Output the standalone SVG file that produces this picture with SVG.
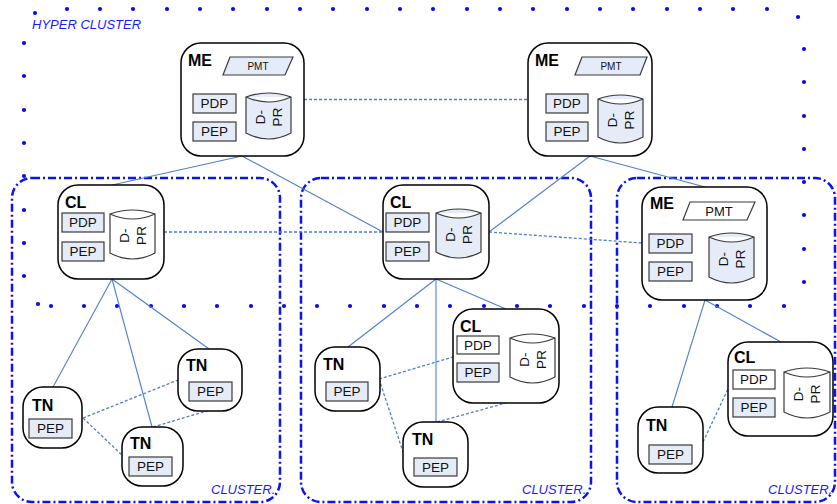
<svg xmlns="http://www.w3.org/2000/svg" width="837" height="504" viewBox="0 0 837 504">
<style>
.bg{fill:#fff}
.dot{fill:#0a0ae6}
.clu{fill:none;stroke:#0a14f0;stroke-width:2.5;stroke-dasharray:8 3 2 3}
.lbl{font-family:"Liberation Sans",Arial,sans-serif;font-style:italic;fill:#1a1aff;font-size:13px}
.node{fill:#fff;stroke:#000;stroke-width:1.5}
.box{fill:#e6ecf7;stroke:#3a3a3a;stroke-width:1.2}
.boxw{fill:#fff;stroke:#3a3a3a;stroke-width:1.2}
.cyl{fill:#e6ecf7;stroke:#3a3a3a;stroke-width:1.2}
.cylw{fill:#fff;stroke:#3a3a3a;stroke-width:1.2}
.t{font-family:"Liberation Sans",Arial,sans-serif;font-size:13.5px;fill:#111;text-anchor:middle}
.ts{font-family:"Liberation Sans",Arial,sans-serif;font-size:10px;fill:#111;text-anchor:middle}
.tm{font-family:"Liberation Sans",Arial,sans-serif;font-size:13px;fill:#111;text-anchor:middle}
.h{font-family:"Liberation Sans",Arial,sans-serif;font-size:16px;font-weight:bold;fill:#000}
.ln{stroke:#4f7fcf;stroke-width:1.1;fill:none}
.dl{stroke:#4f7fcf;stroke-width:1.3;fill:none;stroke-dasharray:3 2}
</style>
<rect class="bg" x="0" y="0" width="837" height="504"/>
<g id="hyper-cluster">
<circle class="dot" cx="35" cy="13" r="2.1"/>
<circle class="dot" cx="67" cy="9" r="2.1"/><circle class="dot" cx="100" cy="9" r="2.1"/><circle class="dot" cx="133" cy="9" r="2.1"/><circle class="dot" cx="167" cy="9" r="2.1"/><circle class="dot" cx="200" cy="9" r="2.1"/><circle class="dot" cx="233" cy="9" r="2.1"/><circle class="dot" cx="267" cy="9" r="2.1"/><circle class="dot" cx="300" cy="9" r="2.1"/><circle class="dot" cx="333" cy="9" r="2.1"/><circle class="dot" cx="367" cy="9" r="2.1"/><circle class="dot" cx="400" cy="9" r="2.1"/><circle class="dot" cx="433" cy="9" r="2.1"/><circle class="dot" cx="467" cy="9" r="2.1"/><circle class="dot" cx="500" cy="9" r="2.1"/><circle class="dot" cx="533" cy="9" r="2.1"/><circle class="dot" cx="567" cy="9" r="2.1"/><circle class="dot" cx="600" cy="9" r="2.1"/><circle class="dot" cx="633" cy="9" r="2.1"/><circle class="dot" cx="667" cy="9" r="2.1"/><circle class="dot" cx="700" cy="9" r="2.1"/><circle class="dot" cx="733" cy="9" r="2.1"/><circle class="dot" cx="767" cy="9" r="2.1"/>
<circle class="dot" cx="798" cy="17" r="2.1"/>
<circle class="dot" cx="804" cy="49" r="2.1"/><circle class="dot" cx="804" cy="82" r="2.1"/><circle class="dot" cx="804" cy="116" r="2.1"/><circle class="dot" cx="804" cy="149" r="2.1"/><circle class="dot" cx="804" cy="182" r="2.1"/><circle class="dot" cx="804" cy="215" r="2.1"/><circle class="dot" cx="804" cy="249" r="2.1"/><circle class="dot" cx="804" cy="282" r="2.1"/>
<circle class="dot" cx="24" cy="43" r="2.1"/><circle class="dot" cx="24" cy="76" r="2.1"/><circle class="dot" cx="24" cy="110" r="2.1"/><circle class="dot" cx="24" cy="143" r="2.1"/><circle class="dot" cx="24" cy="176" r="2.1"/><circle class="dot" cx="24" cy="210" r="2.1"/><circle class="dot" cx="24" cy="243" r="2.1"/><circle class="dot" cx="24" cy="276" r="2.1"/>
<circle class="dot" cx="38" cy="304" r="2.1"/>
<circle class="dot" cx="51" cy="306" r="2.1"/><circle class="dot" cx="84" cy="306" r="2.1"/><circle class="dot" cx="117" cy="306" r="2.1"/><circle class="dot" cx="151" cy="306" r="2.1"/><circle class="dot" cx="184" cy="306" r="2.1"/><circle class="dot" cx="217" cy="306" r="2.1"/><circle class="dot" cx="251" cy="306" r="2.1"/><circle class="dot" cx="284" cy="306" r="2.1"/><circle class="dot" cx="317" cy="306" r="2.1"/><circle class="dot" cx="350" cy="306" r="2.1"/><circle class="dot" cx="384" cy="306" r="2.1"/><circle class="dot" cx="417" cy="306" r="2.1"/><circle class="dot" cx="450" cy="306" r="2.1"/><circle class="dot" cx="484" cy="306" r="2.1"/><circle class="dot" cx="517" cy="306" r="2.1"/><circle class="dot" cx="550" cy="306" r="2.1"/><circle class="dot" cx="584" cy="306" r="2.1"/><circle class="dot" cx="617" cy="306" r="2.1"/><circle class="dot" cx="650" cy="306" r="2.1"/><circle class="dot" cx="684" cy="306" r="2.1"/><circle class="dot" cx="717" cy="306" r="2.1"/><circle class="dot" cx="750" cy="306" r="2.1"/><circle class="dot" cx="784" cy="306" r="2.1"/>
<text class="lbl" x="32" y="29">HYPER CLUSTER</text>
</g>
<g id="clusters">
<rect class="clu" x="12" y="178" width="268" height="324" rx="20"/>
<rect class="clu" x="301" y="178" width="290" height="324" rx="20"/>
<rect class="clu" x="617" y="178" width="218" height="324" rx="20"/>
<text class="lbl" x="211" y="494">CLUSTER.</text>
<text class="lbl" x="522" y="494">CLUSTER.</text>
<text class="lbl" x="768" y="494">CLUSTER.</text>
</g>
<g id="connectors">
<line class="ln" x1="242" y1="156" x2="112" y2="185"/>
<line class="ln" x1="242" y1="156" x2="383" y2="232"/>
<line class="ln" x1="590" y1="156" x2="489" y2="232"/>
<line class="ln" x1="590" y1="156" x2="705" y2="187"/>
<line class="ln" x1="112" y1="279" x2="53" y2="387"/>
<line class="ln" x1="112" y1="279" x2="152" y2="427"/>
<line class="ln" x1="112" y1="279" x2="209" y2="349"/>
<line class="ln" x1="436" y1="279" x2="348" y2="347"/>
<line class="ln" x1="436" y1="279" x2="436" y2="422"/>
<line class="ln" x1="436" y1="279" x2="506" y2="309"/>
<line class="ln" x1="705" y1="300" x2="672" y2="407"/>
<line class="ln" x1="705" y1="300" x2="781" y2="342"/>
<line class="dl" x1="304" y1="99.5" x2="528" y2="99.5"/>
<line class="dl" x1="164" y1="232" x2="383" y2="232"/>
<line class="dl" x1="489" y1="232" x2="642" y2="243"/>
<line class="dl" x1="83" y1="418" x2="178" y2="380"/>
<line class="dl" x1="83" y1="418" x2="123" y2="456"/>
<line class="dl" x1="153" y1="427" x2="210" y2="410"/>
<line class="dl" x1="379" y1="379" x2="453" y2="357"/>
<line class="dl" x1="379" y1="379" x2="403" y2="452"/>
<line class="dl" x1="437" y1="422" x2="506" y2="403"/>
<line class="dl" x1="703" y1="442" x2="728" y2="389"/>
</g>
<g id="me1">
<rect class="node" x="181" y="43" width="123" height="113" rx="20"/>
<text class="h" x="188" y="66">ME</text>
<polygon class="box" points="230,57 293,57 285,75 223,75"/>
<text class="ts" x="258" y="69.6">PMT</text>
<rect class="box" x="193" y="94" width="43" height="19"/><text class="t" x="214.5" y="108.3">PDP</text>
<rect class="box" x="193" y="122" width="43" height="19"/><text class="t" x="214.5" y="136.3">PEP</text>
<path class="cyl" d="M246,97 Q268.5,89 291,97 L291,133 Q268.5,145 246,133 Z M246,97 Q268.5,107 291,97"/>
<text class="t" transform="translate(268.5,117) rotate(-90)"><tspan x="0" y="-4">D-</tspan><tspan x="0" y="13">PR</tspan></text>
</g>
<g id="me2">
<rect class="node" x="528" y="43" width="124" height="113" rx="20"/>
<text class="h" x="535" y="66">ME</text>
<polygon class="box" points="582,57 647,57 640,75 575,75"/>
<text class="ts" x="611" y="69.6">PMT</text>
<rect class="box" x="546" y="94" width="42" height="19"/><text class="t" x="567" y="108.3">PDP</text>
<rect class="box" x="546" y="122" width="42" height="19"/><text class="t" x="567" y="136.3">PEP</text>
<path class="cyl" d="M598,99 Q620.5,91 643,99 L643,137 Q620.5,149 598,137 Z M598,99 Q620.5,109 643,99"/>
<text class="t" transform="translate(620.5,120) rotate(-90)"><tspan x="0" y="-4">D-</tspan><tspan x="0" y="13">PR</tspan></text>
</g>
<g id="cl1">
<rect class="node" x="58" y="185" width="106" height="94" rx="20"/>
<text class="h" x="65" y="208">CL</text>
<rect class="box" x="62" y="213" width="42" height="19"/><text class="t" x="83" y="227.3">PDP</text>
<rect class="box" x="62" y="242" width="42" height="19"/><text class="t" x="83" y="256.3">PEP</text>
<path class="cylw" d="M110,214 Q132.5,206 155,214 L155,253 Q132.5,265 110,253 Z M110,214 Q132.5,224 155,214"/>
<text class="t" transform="translate(132.5,235.5) rotate(-90)"><tspan x="0" y="-4">D-</tspan><tspan x="0" y="13">PR</tspan></text>
</g>
<g id="cl2">
<rect class="node" x="383" y="185" width="106" height="94" rx="20"/>
<text class="h" x="390" y="208">CL</text>
<rect class="box" x="386" y="213" width="43" height="19"/><text class="t" x="407.5" y="227.3">PDP</text>
<rect class="box" x="386" y="242" width="43" height="19"/><text class="t" x="407.5" y="256.3">PEP</text>
<path class="cyl" d="M436,213 Q458.5,205 481,213 L481,252 Q458.5,264 436,252 Z M436,213 Q458.5,223 481,213"/>
<text class="t" transform="translate(458.5,234.5) rotate(-90)"><tspan x="0" y="-4">D-</tspan><tspan x="0" y="13">PR</tspan></text>
</g>
<g id="me3">
<rect class="node" x="642" y="187" width="125" height="113" rx="20"/>
<text class="h" x="650" y="209">ME</text>
<polygon class="boxw" points="690,202 755,202 747,220 683,220"/>
<text class="tm" x="719" y="215.6">PMT</text>
<rect class="box" x="649" y="234" width="43" height="19"/><text class="t" x="670.5" y="248.3">PDP</text>
<rect class="box" x="649" y="262" width="43" height="19"/><text class="t" x="670.5" y="276.3">PEP</text>
<path class="cyl" d="M709,237 Q731.5,229 754,237 L754,277 Q731.5,289 709,277 Z M709,237 Q731.5,247 754,237"/>
<text class="t" transform="translate(731.5,259) rotate(-90)"><tspan x="0" y="-4">D-</tspan><tspan x="0" y="13">PR</tspan></text>
</g>
<g id="cl3">
<rect class="node" x="453" y="309" width="106" height="94" rx="20"/>
<text class="h" x="460" y="332">CL</text>
<rect class="boxw" x="457" y="336" width="42" height="18"/><text class="t" x="478" y="349.8">PDP</text>
<rect class="box" x="457" y="363" width="42" height="19"/><text class="t" x="478" y="377.3">PEP</text>
<path class="cylw" d="M510,338 Q532.5,330 555,338 L555,377 Q532.5,389 510,377 Z M510,338 Q532.5,348 555,338"/>
<text class="t" transform="translate(532.5,359.5) rotate(-90)"><tspan x="0" y="-4">D-</tspan><tspan x="0" y="13">PR</tspan></text>
</g>
<g id="cl4">
<rect class="node" x="728" y="342" width="105" height="94" rx="20"/>
<text class="h" x="734" y="363">CL</text>
<rect class="boxw" x="733" y="370" width="42" height="19"/><text class="t" x="754" y="384.3">PDP</text>
<rect class="box" x="733" y="398" width="42" height="19"/><text class="t" x="754" y="412.3">PEP</text>
<path class="cylw" d="M784,372 Q807,364 830,372 L830,412 Q807,424 784,412 Z M784,372 Q807,382 830,372"/>
<text class="t" transform="translate(807,394) rotate(-90)"><tspan x="0" y="-4">D-</tspan><tspan x="0" y="13">PR</tspan></text>
</g>
<g id="tn1">
<rect class="node" x="23" y="387" width="59" height="61" rx="20"/>
<text class="h" x="32" y="411">TN</text>
<rect class="box" x="29" y="419" width="43" height="19"/><text class="t" x="50.5" y="433.3">PEP</text>
</g>
<g id="tn2">
<rect class="node" x="178" y="349" width="64" height="62" rx="20"/>
<text class="h" x="186" y="371">TN</text>
<rect class="box" x="189" y="382" width="43" height="19"/><text class="t" x="210.5" y="396.3">PEP</text>
</g>
<g id="tn3">
<rect class="node" x="122" y="427" width="61" height="59" rx="20"/>
<text class="h" x="130" y="449">TN</text>
<rect class="box" x="129" y="457" width="43" height="19"/><text class="t" x="150.5" y="471.3">PEP</text>
</g>
<g id="tn4">
<rect class="node" x="315" y="347" width="65" height="64" rx="20"/>
<text class="h" x="323" y="370">TN</text>
<rect class="box" x="326" y="382" width="42" height="19"/><text class="t" x="347" y="396.3">PEP</text>
</g>
<g id="tn5">
<rect class="node" x="403" y="422" width="65" height="65" rx="20"/>
<text class="h" x="412" y="445">TN</text>
<rect class="box" x="414" y="458" width="43" height="18"/><text class="t" x="435.5" y="471.8">PEP</text>
</g>
<g id="tn6">
<rect class="node" x="638" y="407" width="65" height="66" rx="20"/>
<text class="h" x="646" y="431">TN</text>
<rect class="box" x="649" y="445" width="43" height="19"/><text class="t" x="670.5" y="459.3">PEP</text>
</g>
</svg>
